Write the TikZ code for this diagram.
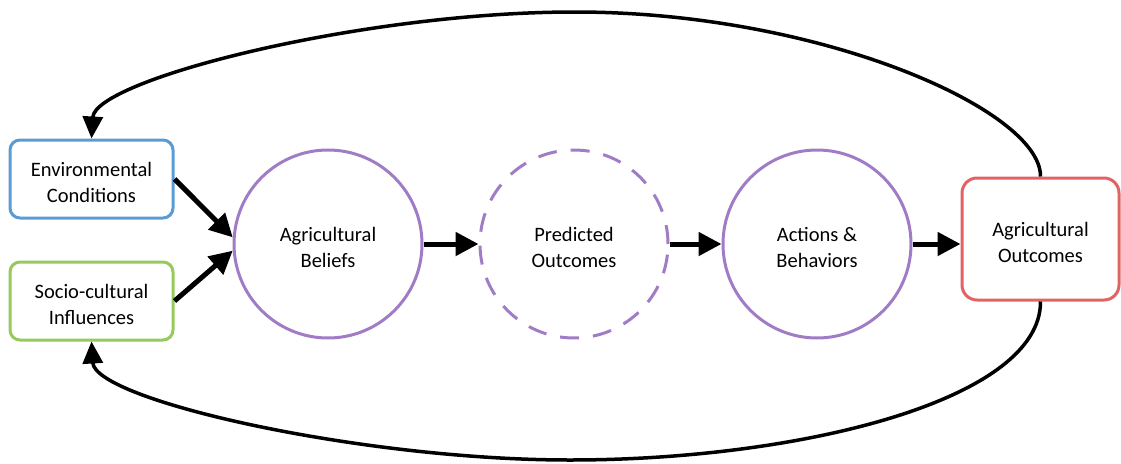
\documentclass[tikz,border=0pt]{standalone}
\usepackage{fontspec}
\setmainfont{Carlito}
\usetikzlibrary{arrows.meta}
\definecolor{cblue}{HTML}{5B9BD5}
\definecolor{cgreen}{HTML}{96CA5C}
\definecolor{cred}{HTML}{E06464}
\definecolor{cpurple}{HTML}{A07CC6}
\newcommand\myup{\rule{0pt}{21.5pt}}
\tikzset{
  txt/.style={font=\fontsize{20.5}{26}\selectfont, align=center, text=black},
  boxnode/.style={txt, rectangle, rounded corners=10pt, line width=3pt, minimum width=163pt, minimum height=78pt},
  circnode/.style={txt, circle, draw=cpurple, line width=3pt, minimum size=188pt, inner sep=0pt},
  flow/.style={line width=5pt, -{Triangle[length=23pt,width=23pt]}},
  loop/.style={line width=3.5pt, -{Triangle[length=22pt,width=20pt]}}
}
\begin{document}
\begin{tikzpicture}[x=1pt,y=-1pt]
\useasboundingbox (0,0) rectangle (1121,463);
\node[boxnode, draw=cblue] (env) at (91.5,179) {\myup Environmental\\Conditions};
\node[boxnode, draw=cgreen] (soc) at (91.5,301) {\myup Socio-cultural\\Influences};
\node[circnode] (bel) at (328,244) {\myup Agricultural\\Beliefs};
\node[circnode, dash pattern=on 19pt off 14pt] (pred) at (574,244) {\myup Predicted\\Outcomes};
\node[circnode] (act) at (817,244) {\myup Actions \&\\Behaviors};
\node[boxnode, draw=cred, rounded corners=15pt, minimum width=157pt, minimum height=122pt] (out) at (1040.5,239) {\myup Agricultural\\Outcomes};
\coordinate (topc) at (575,12);
\coordinate (botc) at (570,460);
\draw[flow] (env.east) -- (bel.176);
\draw[flow] (soc.east) -- (bel.184);
\draw[flow] (bel.east) -- (pred.west);
\draw[flow] (pred.east) -- (act.west);
\draw[flow] (act.east) -- (act.east -| out.west);
\draw[loop] (out.north) .. controls (1041,110) and (820,12) .. (topc)
  .. controls (360,12) and (95,80) .. (env.north);
\draw[loop] (out.south) .. controls (1041,400) and (800,460) .. (botc)
  .. controls (360,460) and (95,400) .. (soc.south);
\end{tikzpicture}
\end{document}
